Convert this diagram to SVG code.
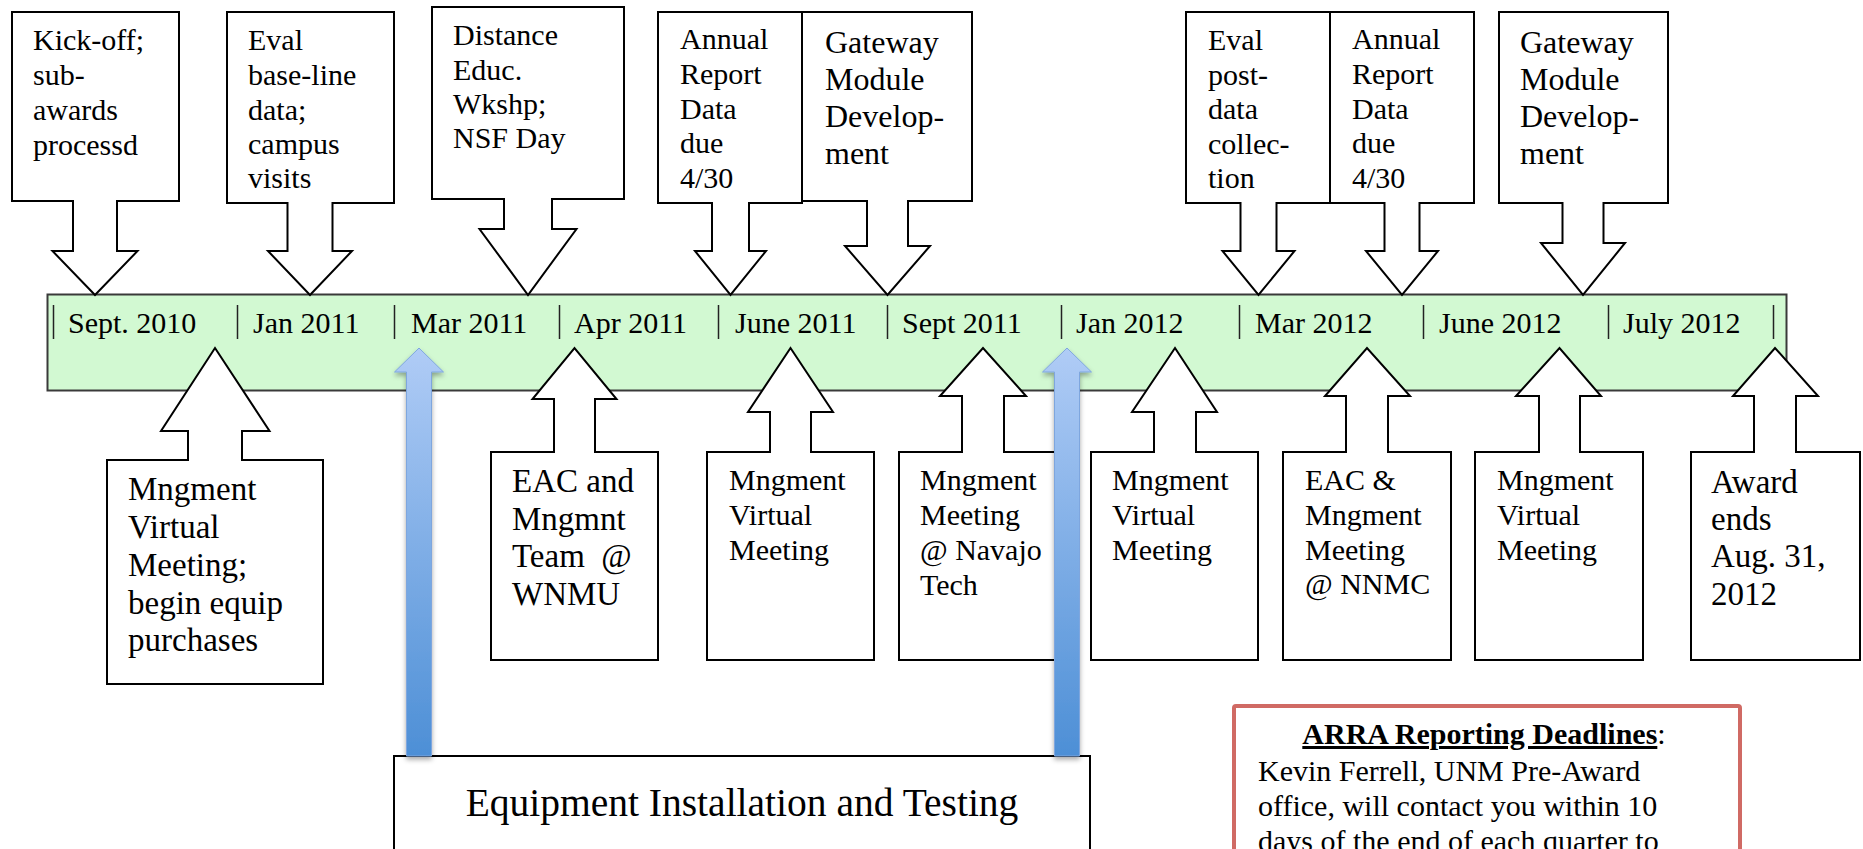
<svg xmlns="http://www.w3.org/2000/svg" width="1863" height="849" viewBox="0 0 1863 849">
  <style>
    text { font-family: "Liberation Serif", "Times New Roman", serif; fill: #000; }
    .t30 { font-size: 30px; }
    .t32 { font-size: 32px; }
    .t33 { font-size: 33px; }
    .lbl { font-size: 30px; }
    .callout { fill: #fff; stroke: #000; stroke-width: 2; stroke-linejoin: miter; }
    .tick { stroke: #222; stroke-width: 1.5; }
    .blue { fill: url(#blueGrad); stroke: #7ea6de; stroke-width: 1; filter: url(#shadow); }
  </style>
  <defs>
    <linearGradient id="blueGrad" x1="0" y1="0" x2="0" y2="1">
      <stop offset="0" stop-color="#b0ccf6"/>
      <stop offset="1" stop-color="#4d8fd6"/>
    </linearGradient>
    <filter id="shadow" x="-50%" y="-5%" width="200%" height="110%">
      <feDropShadow dx="0" dy="3" stdDeviation="2.5" flood-color="#000" flood-opacity="0.35"/>
    </filter>
  </defs>

  <rect width="1863" height="849" fill="#fff"/>

  <!-- timeline bar -->
  <g id="timeline">
    <rect x="47.5" y="294.5" width="1739" height="96" fill="#d2f9d2" stroke="#3a3a3a" stroke-width="2"/>
    <g class="ticks">
      <line class="tick" x1="53.5" y1="305" x2="53.5" y2="339"/>
      <line class="tick" x1="237.5" y1="305" x2="237.5" y2="339"/>
      <line class="tick" x1="394.5" y1="305" x2="394.5" y2="339"/>
      <line class="tick" x1="559.5" y1="305" x2="559.5" y2="339"/>
      <line class="tick" x1="718.5" y1="305" x2="718.5" y2="339"/>
      <line class="tick" x1="887.5" y1="305" x2="887.5" y2="339"/>
      <line class="tick" x1="1061.5" y1="305" x2="1061.5" y2="339"/>
      <line class="tick" x1="1239.5" y1="305" x2="1239.5" y2="339"/>
      <line class="tick" x1="1423.5" y1="305" x2="1423.5" y2="339"/>
      <line class="tick" x1="1608.5" y1="305" x2="1608.5" y2="339"/>
      <line class="tick" x1="1773.5" y1="305" x2="1773.5" y2="339"/>
    </g>
    <g class="lbl">
      <text x="68" y="333">Sept. 2010</text>
      <text x="253" y="333">Jan 2011</text>
      <text x="411" y="333">Mar 2011</text>
      <text x="574" y="333">Apr 2011</text>
      <text x="735" y="333">June 2011</text>
      <text x="902" y="333">Sept 2011</text>
      <text x="1076" y="333">Jan 2012</text>
      <text x="1255" y="333">Mar 2012</text>
      <text x="1439" y="333">June 2012</text>
      <text x="1623" y="333">July 2012</text>
    </g>
  </g>

  <!-- milestones above the bar -->
  <g id="kickoff">
    <path class="callout" d="M12 12 H179 V201 H117 V251 H137.5 L95 295 L52.5 251 H73 V201 H12 Z"/>
    <text class="t30"><tspan x="33" y="50">Kick-off;</tspan><tspan x="33" y="85">sub-</tspan><tspan x="33" y="120">awards</tspan><tspan x="33" y="155">processd</tspan></text>
  </g>
  <g id="eval-baseline">
    <path class="callout" d="M227 12 H394 V203 H332.5 V251 H352 L310 295 L268 251 H287.5 V203 H227 Z"/>
    <text class="t30"><tspan x="248" y="50">Eval</tspan><tspan x="248" y="85">base-line</tspan><tspan x="248" y="120">data;</tspan><tspan x="248" y="154">campus</tspan><tspan x="248" y="188">visits</tspan></text>
  </g>
  <g id="distance-educ">
    <path class="callout" d="M432 7 H624 V199 H552 V229 H576.5 L528 295 L479.5 229 H504 V199 H432 Z"/>
    <text class="t30"><tspan x="453" y="45">Distance</tspan><tspan x="453" y="80">Educ.</tspan><tspan x="453" y="114">Wkshp;</tspan><tspan x="453" y="148">NSF Day</tspan></text>
  </g>
  <g id="annual-report-1">
    <path class="callout" d="M658 12 H802 V203 H749 V251 H766 L730.5 295 L695 251 H712 V203 H658 Z"/>
    <text class="t30"><tspan x="680" y="49">Annual</tspan><tspan x="680" y="84">Report</tspan><tspan x="680" y="119">Data</tspan><tspan x="680" y="153">due</tspan><tspan x="680" y="188">4/30</tspan></text>
  </g>
  <g id="gateway-1">
    <path class="callout" d="M802 12 H972 V201 H908 V246 H930 L887.5 295 L845 246 H867 V201 H802 Z"/>
    <text class="t32"><tspan x="825" y="53">Gateway</tspan><tspan x="825" y="90">Module</tspan><tspan x="825" y="127">Develop-</tspan><tspan x="825" y="164">ment</tspan></text>
  </g>
  <g id="eval-post">
    <path class="callout" d="M1186 12 H1330 V203 H1276.5 V251 H1294.5 L1258.5 295 L1222.5 251 H1240.5 V203 H1186 Z"/>
    <text class="t30"><tspan x="1208" y="50">Eval</tspan><tspan x="1208" y="85">post-</tspan><tspan x="1208" y="119">data</tspan><tspan x="1208" y="154">collec-</tspan><tspan x="1208" y="188">tion</tspan></text>
  </g>
  <g id="annual-report-2">
    <path class="callout" d="M1330 12 H1474 V203 H1419.5 V251 H1438 L1402 295 L1366 251 H1384.5 V203 H1330 Z"/>
    <text class="t30"><tspan x="1352" y="49">Annual</tspan><tspan x="1352" y="84">Report</tspan><tspan x="1352" y="119">Data</tspan><tspan x="1352" y="153">due</tspan><tspan x="1352" y="188">4/30</tspan></text>
  </g>
  <g id="gateway-2">
    <path class="callout" d="M1499 12 H1668 V203 H1603.5 V243 H1625 L1583 295 L1541 243 H1562.5 V203 H1499 Z"/>
    <text class="t32"><tspan x="1520" y="53">Gateway</tspan><tspan x="1520" y="90">Module</tspan><tspan x="1520" y="127">Develop-</tspan><tspan x="1520" y="164">ment</tspan></text>
  </g>

  <!-- milestones below the bar -->
  <g id="mgmt-virtual-1">
    <path class="callout" d="M107 460 H188 V431 H161 L215 348 L269.5 431 H242 V460 H323 V684 H107 Z"/>
    <text class="t33"><tspan x="128" y="500">Mngment</tspan><tspan x="128" y="538">Virtual</tspan><tspan x="128" y="576">Meeting;</tspan><tspan x="128" y="614">begin equip</tspan><tspan x="128" y="651">purchases</tspan></text>
  </g>
  <g id="eac-wnmu">
    <path class="callout" d="M491 452 H554 V399 H532.5 L574.5 348 L616.5 399 H595 V452 H658 V660 H491 Z"/>
    <text class="t33" xml:space="preserve"><tspan x="512" y="492">EAC and</tspan><tspan x="512" y="530">Mngmnt</tspan><tspan x="512" y="567">Team  @</tspan><tspan x="512" y="605">WNMU</tspan></text>
  </g>
  <g id="mgmt-virtual-2">
    <path class="callout" d="M707 452 H770 V412 H748 L790.5 348 L833 412 H811 V452 H874 V660 H707 Z"/>
    <text class="t30"><tspan x="729" y="490">Mngment</tspan><tspan x="729" y="525">Virtual</tspan><tspan x="729" y="560">Meeting</tspan></text>
  </g>
  <g id="mgmt-navajo">
    <path class="callout" d="M899 452 H962 V396 H940 L983 348 L1026 396 H1004 V452 H1066 V660 H899 Z"/>
    <text class="t30"><tspan x="920" y="490">Mngment</tspan><tspan x="920" y="525">Meeting</tspan><tspan x="920" y="560">@ Navajo</tspan><tspan x="920" y="595">Tech</tspan></text>
  </g>
  <g id="mgmt-virtual-3">
    <path class="callout" d="M1091 452 H1154 V412 H1132 L1175 348 L1217 412 H1196 V452 H1258 V660 H1091 Z"/>
    <text class="t30"><tspan x="1112" y="490">Mngment</tspan><tspan x="1112" y="525">Virtual</tspan><tspan x="1112" y="560">Meeting</tspan></text>
  </g>
  <g id="eac-nnmc">
    <path class="callout" d="M1283 452 H1346 V396 H1325 L1367 348 L1410 396 H1388 V452 H1451 V660 H1283 Z"/>
    <text class="t30"><tspan x="1305" y="490">EAC &amp;</tspan><tspan x="1305" y="525">Mngment</tspan><tspan x="1305" y="560">Meeting</tspan><tspan x="1305" y="594">@ NNMC</tspan></text>
  </g>
  <g id="mgmt-virtual-4">
    <path class="callout" d="M1475 452 H1539 V396 H1516 L1559.5 348 L1601 396 H1580 V452 H1643 V660 H1475 Z"/>
    <text class="t30"><tspan x="1497" y="490">Mngment</tspan><tspan x="1497" y="525">Virtual</tspan><tspan x="1497" y="560">Meeting</tspan></text>
  </g>
  <g id="award-ends">
    <path class="callout" d="M1691 452 H1754 V396 H1733 L1775 348 L1818 396 H1796 V452 H1860 V660 H1691 Z"/>
    <text class="t33"><tspan x="1711" y="493">Award</tspan><tspan x="1711" y="530">ends</tspan><tspan x="1711" y="567">Aug. 31,</tspan><tspan x="1711" y="605">2012</tspan></text>
  </g>

  <!-- installation period -->
  <g id="equipment">
    <rect x="394" y="756" width="696" height="140" fill="#fff" stroke="#000" stroke-width="2"/>
    <text x="742" y="816" font-size="39.5" text-anchor="middle">Equipment Installation and Testing</text>
  </g>

  <!-- reporting note -->
  <g id="arra">
    <rect x="1234" y="706" width="506" height="200" rx="2" fill="#fff" stroke="#d06a64" stroke-width="4"/>
    <text x="1484" y="744" text-anchor="middle" font-size="30"><tspan font-weight="bold" text-decoration="underline">ARRA Reporting Deadlines</tspan>:</text>
    <text class="t30"><tspan x="1258" y="781">Kevin Ferrell, UNM Pre-Award</tspan><tspan x="1258" y="816">office, will contact you within 10</tspan><tspan x="1258" y="851">days of the end of each quarter to</tspan></text>
  </g>

  <!-- arrows from the installation box up to the timeline -->
  <g id="connectors">
    <path class="blue" d="M406.5 756 V372 H394.5 L419 348 L443.5 372 H431.5 V756 Z"/>
    <path class="blue" d="M1054.5 756 V372 H1042.5 L1067 348 L1091.5 372 H1079.5 V756 Z"/>
  </g>
</svg>
